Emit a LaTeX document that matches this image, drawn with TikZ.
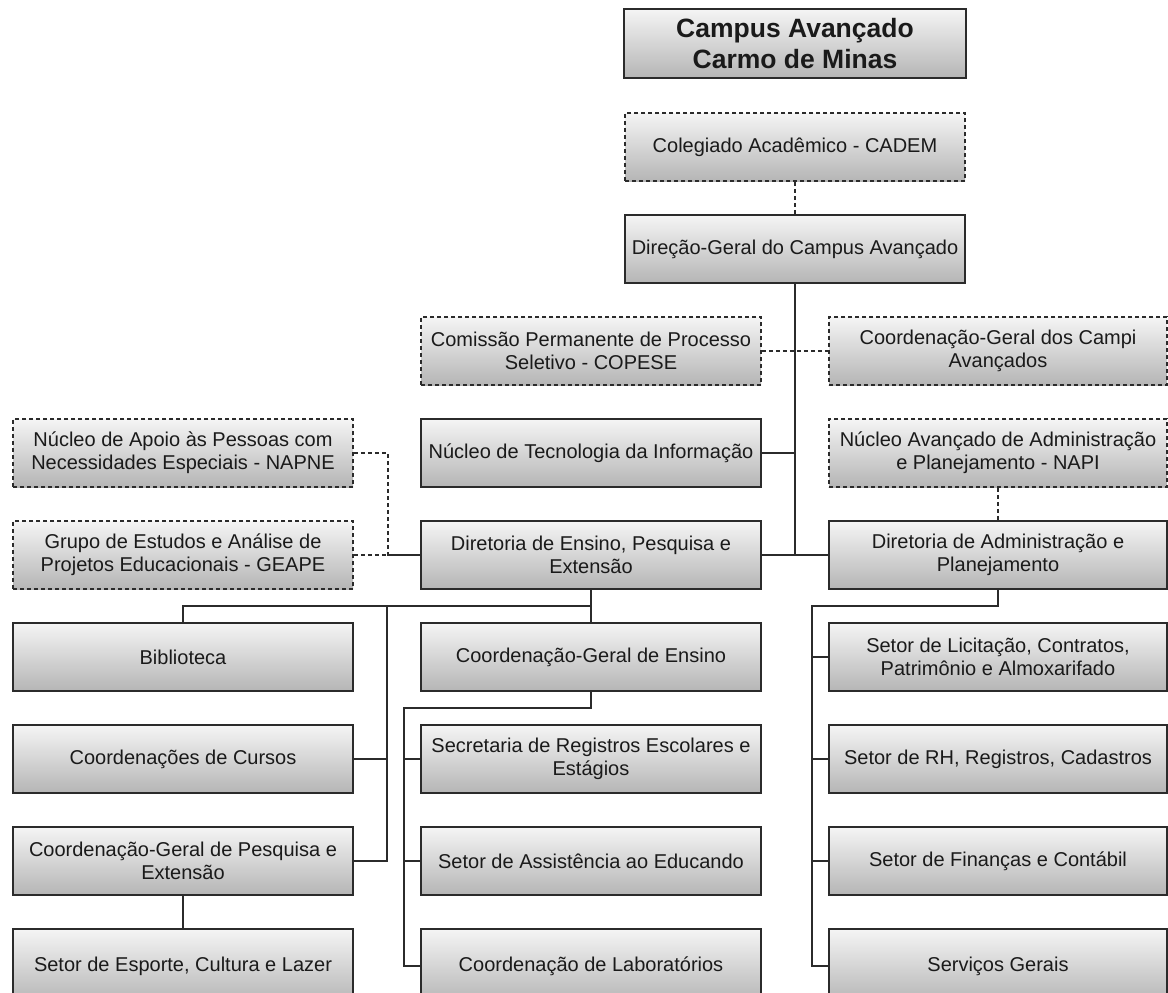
\documentclass[tikz,border=0pt]{standalone}
\usepackage{fontspec}
\setmainfont{Liberation Sans}
\usepackage{tikz}
\usetikzlibrary{calc}
\usetikzlibrary{positioning}
\definecolor{boxline}{HTML}{2B2B2B}
\definecolor{boxtext}{HTML}{1A1A1A}
\tikzstyle{unit} = [rectangle, draw=boxline, line width=1.5pt, top color=gray!8, bottom color=gray!58, minimum width=340pt, minimum height=68pt, inner sep=0pt, align=center, text=boxtext, font=\fontsize{20}{23}\selectfont]
\tikzstyle{council} = [unit, dash pattern=on 4pt off 3pt]
\tikzstyle{lastrow} = [unit, minimum height=74pt]
\tikzstyle{link} = [draw=boxline, line width=1.5pt]
\tikzstyle{aux} = [link, dash pattern=on 4pt off 3pt]

\begin{document}
\begin{tikzpicture}[x=1pt,y=-1pt]
  \useasboundingbox (0,0) rectangle (1168,993);
  % top of the chart
  \node[unit, minimum width=342pt, minimum height=69pt, font=\bfseries\fontsize{26.5}{31}\selectfont] (campus) at (795,43.5) {Campus Avançado\\Carmo de Minas};
  \node[council] (cadem) at (795,147) {Colegiado Acadêmico - CADEM};
  \node[unit] (direcao) at (795,249) {Direção-Geral do Campus Avançado};
  \node[council] (copese) at (591,351) {Comissão Permanente de Processo\\Seletivo - COPESE};
  \node[council, minimum width=338pt] (campi) at (998,351) {Coordenação-Geral dos Campi\\Avançados};
  % boards
  \node[council] (napne) at (183,453) {Núcleo de Apoio às Pessoas com\\Necessidades Especiais - NAPNE};
  \node[unit] (tecnologia) at (591,453) {Núcleo de Tecnologia da Informação};
  \node[council, minimum width=338pt] (napi) at (998,453) {Núcleo Avançado de Administração\\e Planejamento - NAPI};
  \node[council] (geape) at (183,555) {Grupo de Estudos e Análise de\\Projetos Educacionais - GEAPE};
  \node[unit] (ensino) at (591,555) {Diretoria de Ensino, Pesquisa e\\Extensão};
  \node[unit, minimum width=338pt] (admin) at (998,555) {Diretoria de Administração e\\Planejamento};
  % sectors
  \node[unit] (biblioteca) at (183,657) {Biblioteca};
  \node[unit] (cursos) at (183,759) {Coordenações de Cursos};
  \node[unit] (cgpe) at (183,861) {Coordenação-Geral de Pesquisa e\\Extensão};
  \node[lastrow] (esporte) at (183,966) {Setor de Esporte, Cultura e Lazer};
  \node[unit] (cge) at (591,657) {Coordenação-Geral de Ensino};
  \node[unit] (secretaria) at (591,759) {Secretaria de Registros Escolares e\\Estágios};
  \node[unit] (assistencia) at (591,861) {Setor de Assistência ao Educando};
  \node[lastrow] (laboratorios) at (591,966) {Coordenação de Laboratórios};
  \node[unit, minimum width=338pt] (licitacao) at (998,657) {Setor de Licitação, Contratos,\\Patrimônio e Almoxarifado};
  \node[unit, minimum width=338pt] (rh) at (998,759) {Setor de RH, Registros, Cadastros};
  \node[unit, minimum width=338pt] (financas) at (998,861) {Setor de Finanças e Contábil};
  \node[lastrow, minimum width=338pt] (servicos) at (998,966) {Serviços Gerais};

  \coordinate (ebus) at ($(ensino.south)!.5!(cge.north)$);
  \coordinate (lbus) at (387,606);
  \coordinate (gbus) at ($(cge.south)!.5!(secretaria.north)$);
  \coordinate (mbus) at (404,708);
  \coordinate (abus) at ($(admin.south)!.5!(licitacao.north)$);
  \coordinate (rbus) at (812,606);

  % main trunk
  \draw[aux] (cadem) -- (direcao);
  \draw[link] (direcao.south) -- (direcao.south |- ensino.west);
  \draw[link] (tecnologia.east) -- (tecnologia.east -| direcao.south);
  \draw[link] (ensino.east) -- (admin.west);
  \draw[aux] (copese.east) -- (campi.west);
  \draw[aux] (napi) -- (admin);
  \draw[aux] (napne.east) -- ++(34,0) |- (ensino.west);
  \draw[aux] (geape.east) -- (ensino.west);

  % teaching
  \draw[link] (ensino.south) -- (cge.north);
  \draw[link] (ebus) -| (biblioteca.north);
  \draw[link] (lbus) |- (cgpe.east);
  \draw[link] (cursos.east) -- (cursos.east -| lbus);
  \draw[link] (cgpe) -- (esporte);
  \draw[link] (cge.south) -- (gbus) -- (mbus) |- (laboratorios.west);
  \draw[link] (secretaria.west) -- (secretaria.west -| mbus);
  \draw[link] (assistencia.west) -- (assistencia.west -| mbus);

  % administration
  \draw[link] (admin.south) -- (abus) -- (rbus) |- (servicos.west);
  \foreach \n in {licitacao,rh,financas}
    \draw[link] (\n.west) -- (\n.west -| rbus);
\end{tikzpicture}
\end{document}
